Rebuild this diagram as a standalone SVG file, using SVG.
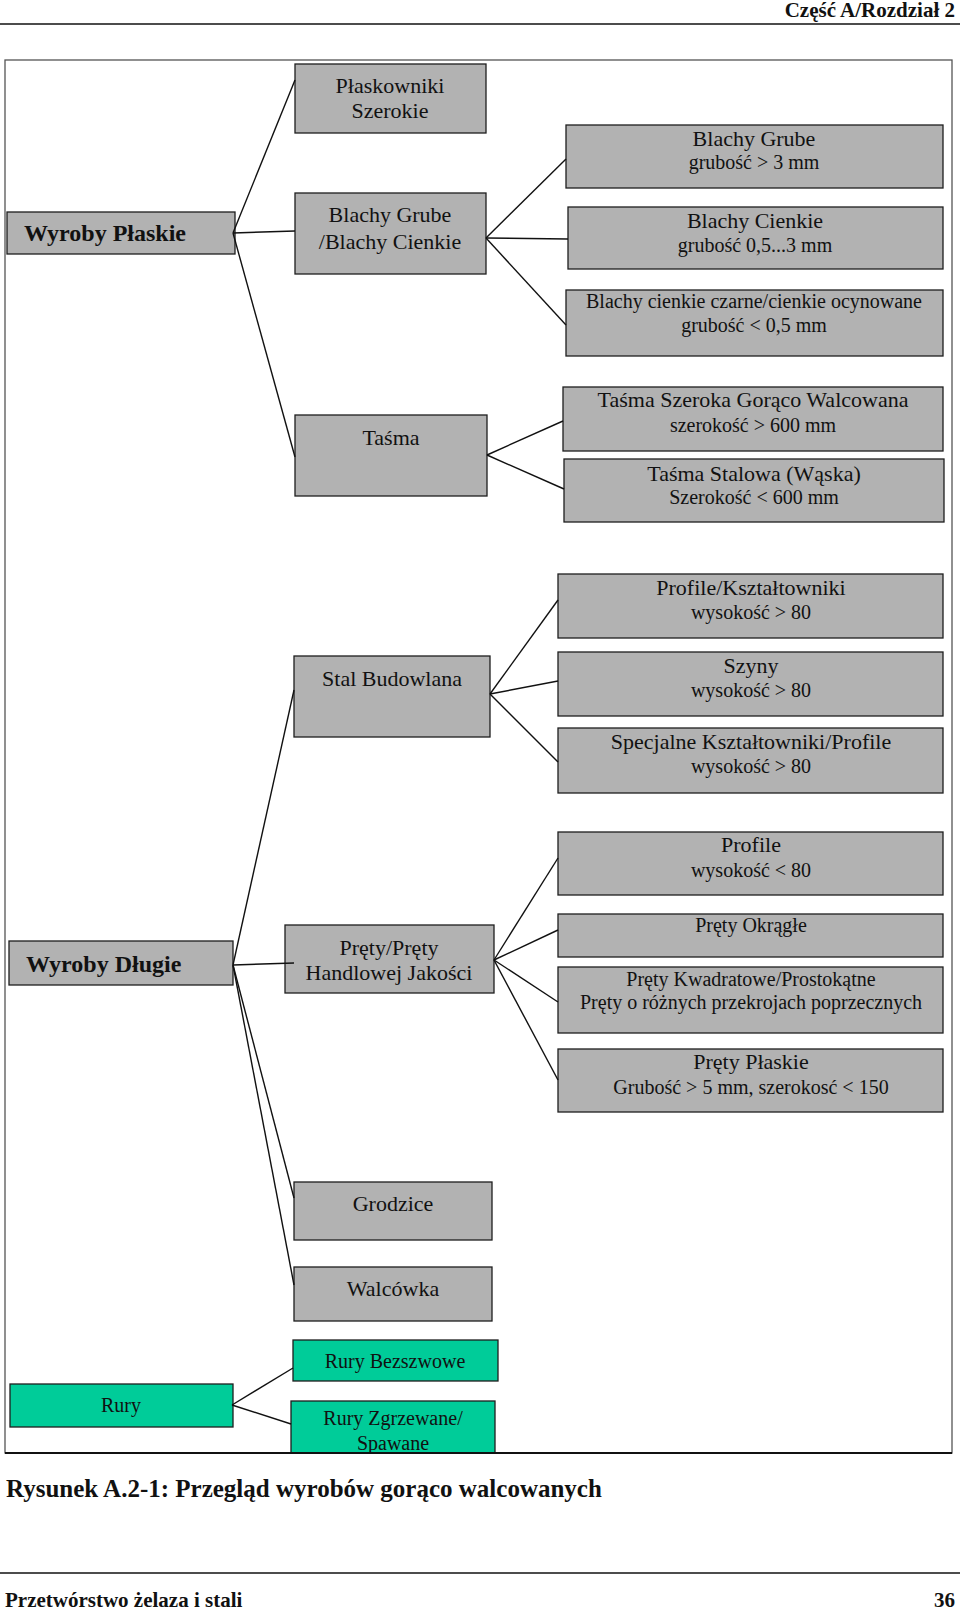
<svg xmlns="http://www.w3.org/2000/svg" width="960" height="1613" viewBox="0 0 960 1613">
<style>
text{font-family:"Liberation Serif","Times New Roman",serif;fill:#111}
.t{font-size:22px;text-anchor:middle}
.s{font-size:20px;text-anchor:middle}
.b{font-size:24px;font-weight:bold}
.g rect{fill:#b2b2b2;stroke:#1e1e1e;stroke-width:1.3}
.gr rect{fill:#00cc99;stroke:#1e1e1e;stroke-width:1.3}
.hdr{font-size:21px;font-weight:bold}
#connectors line{stroke:#111;stroke-width:1.4}
</style>
<defs>
<clipPath id="frameClip"><rect x="5" y="60" width="947" height="1393"/></clipPath>
</defs>
<rect width="960" height="1613" fill="#fff"/>
<text class="hdr" x="955" y="17" text-anchor="end">Część A/Rozdział 2</text>
<line x1="0" y1="24" x2="960" y2="24" stroke="#111" stroke-width="1.5"/>
<g id="frame">
<rect x="5" y="60" width="947" height="1393" fill="none" stroke="#555" stroke-width="1.3"/>
</g>
<g clip-path="url(#frameClip)">
<g id="plaskowniki" class="g"><rect x="295" y="64" width="191" height="69"/><text class="t" x="390" y="93">Płaskowniki</text><text class="t" x="390" y="118">Szerokie</text></g>
<g id="blachy-gc" class="g"><rect x="295" y="193" width="191" height="81"/><text class="t" x="390" y="222">Blachy Grube</text><text class="t" x="390" y="249">/Blachy Cienkie</text></g>
<g id="blachy-grube" class="g"><rect x="566" y="125" width="377" height="63"/><text class="t" x="754" y="146">Blachy Grube</text><text class="s" x="754" y="169">grubość &gt; 3 mm</text></g>
<g id="blachy-cienkie" class="g"><rect x="568" y="207" width="375" height="62"/><text class="t" x="755" y="228">Blachy Cienkie</text><text class="s" x="755" y="252">grubość 0,5...3 mm</text></g>
<g id="blachy-czarne" class="g"><rect x="566" y="290" width="377" height="66"/><text class="s" x="754" y="308">Blachy cienkie czarne/cienkie ocynowane</text><text class="s" x="754" y="332">grubość &lt; 0,5 mm</text></g>
<g id="wyroby-plaskie" class="g"><rect x="7" y="212" width="228" height="42"/><text class="b" x="24" y="241">Wyroby Płaskie</text></g>
<g id="tasma" class="g"><rect x="295" y="415" width="192" height="81"/><text class="t" x="391" y="445">Taśma</text></g>
<g id="tasma-szeroka" class="g"><rect x="563" y="387" width="380" height="64"/><text class="t" x="753" y="407">Taśma Szeroka Gorąco Walcowana</text><text class="s" x="753" y="432">szerokość &gt; 600 mm</text></g>
<g id="tasma-stalowa" class="g"><rect x="564" y="459" width="380" height="63"/><text class="t" x="754" y="481">Taśma Stalowa (Wąska)</text><text class="s" x="754" y="504">Szerokość &lt; 600 mm</text></g>
<g id="stal-budowlana" class="g"><rect x="294" y="656" width="196" height="81"/><text class="t" x="392" y="686">Stal Budowlana</text></g>
<g id="profile-ksztaltowniki" class="g"><rect x="558" y="574" width="385" height="64"/><text class="t" x="751" y="595">Profile/Kształtowniki</text><text class="s" x="751" y="619">wysokość &gt; 80</text></g>
<g id="szyny" class="g"><rect x="558" y="652" width="385" height="64"/><text class="t" x="751" y="673">Szyny</text><text class="s" x="751" y="697">wysokość &gt; 80</text></g>
<g id="specjalne" class="g"><rect x="558" y="728" width="385" height="65"/><text class="t" x="751" y="749">Specjalne Kształtowniki/Profile</text><text class="s" x="751" y="773">wysokość &gt; 80</text></g>
<g id="profile" class="g"><rect x="558" y="832" width="385" height="63"/><text class="t" x="751" y="852">Profile</text><text class="s" x="751" y="877">wysokość &lt; 80</text></g>
<g id="prety-okragle" class="g"><rect x="558" y="914" width="385" height="43"/><text class="s" x="751" y="932">Pręty Okrągłe</text></g>
<g id="prety-kwadratowe" class="g"><rect x="558" y="967" width="385" height="66"/><text class="s" x="751" y="986">Pręty Kwadratowe/Prostokątne</text><text class="s" x="751" y="1009">Pręty o różnych przekrojach poprzecznych</text></g>
<g id="prety-plaskie" class="g"><rect x="558" y="1049" width="385" height="63"/><text class="t" x="751" y="1069">Pręty Płaskie</text><text class="s" x="751" y="1094">Grubość &gt; 5 mm, szerokosć &lt; 150</text></g>
<g id="wyroby-dlugie" class="g"><rect x="9" y="941" width="224" height="44"/><text class="b" x="26" y="972">Wyroby Długie</text></g>
<g id="prety-handlowe" class="g"><rect x="285" y="925" width="209" height="68"/><text class="t" x="389" y="955">Pręty/Pręty</text><text class="t" x="389" y="980">Handlowej Jakości</text></g>
<g id="grodzice" class="g"><rect x="294" y="1182" width="198" height="58"/><text class="t" x="393" y="1211">Grodzice</text></g>
<g id="walcowka" class="g"><rect x="294" y="1267" width="198" height="54"/><text class="t" x="393" y="1296">Walcówka</text></g>
<g id="rury" class="gr"><rect x="10" y="1384" width="223" height="43"/><text class="s" x="121" y="1412">Rury</text></g>
<g id="rury-bezszwowe" class="gr"><rect x="293" y="1340" width="205" height="41"/><text class="s" x="395" y="1368">Rury Bezszwowe</text></g>
<g id="rury-zgrzewane" class="gr"><rect x="291" y="1401" width="204" height="70"/><text class="s" x="393" y="1425">Rury Zgrzewane/</text><text class="s" x="393" y="1450">Spawane</text></g>
<g id="connectors">
<line x1="233" y1="233" x2="295" y2="80"/>
<line x1="233" y1="233" x2="295" y2="231"/>
<line x1="233" y1="233" x2="295" y2="457"/>
<line x1="486" y1="238" x2="566" y2="159"/>
<line x1="486" y1="238" x2="568" y2="239"/>
<line x1="486" y1="238" x2="566" y2="325"/>
<line x1="487" y1="455" x2="563" y2="421"/>
<line x1="487" y1="455" x2="564" y2="489"/>
<line x1="490" y1="694" x2="558" y2="600"/>
<line x1="490" y1="694" x2="558" y2="681"/>
<line x1="490" y1="694" x2="558" y2="762"/>
<line x1="233" y1="965" x2="294" y2="690"/>
<line x1="233" y1="965" x2="294" y2="963"/>
<line x1="233" y1="965" x2="294" y2="1198"/>
<line x1="233" y1="965" x2="294" y2="1285"/>
<line x1="494" y1="960" x2="558" y2="858"/>
<line x1="494" y1="960" x2="558" y2="930"/>
<line x1="494" y1="960" x2="558" y2="1002"/>
<line x1="494" y1="960" x2="558" y2="1080"/>
<line x1="232" y1="1405" x2="293" y2="1368"/>
<line x1="232" y1="1405" x2="291" y2="1424"/>
</g>
</g>
<line x1="5" y1="1453" x2="952" y2="1453" stroke="#111" stroke-width="2"/>
<text x="6" y="1497" font-size="25" font-weight="bold">Rysunek A.2-1: Przegląd wyrobów gorąco walcowanych</text>
<line x1="0" y1="1573" x2="960" y2="1573" stroke="#111" stroke-width="1.5"/>
<text class="hdr" x="5" y="1607">Przetwórstwo żelaza i stali</text>
<text class="hdr" x="955" y="1607" text-anchor="end">36</text>
</svg>
